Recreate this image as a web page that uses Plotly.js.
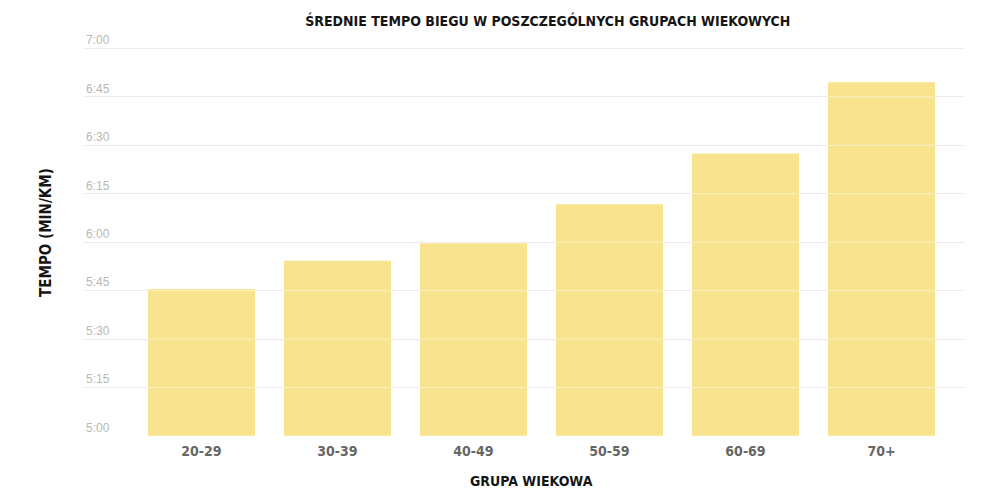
<!DOCTYPE html>
<html>
<head>
<meta charset="utf-8">
<script src="https://cdn.plot.ly/plotly-3.0.1.min.js"></script>
<style>
  html, body { margin: 0; padding: 0; background: #fff; }
  #chart { width: 1000px; height: 500px; }
</style>
</head>
<body>
<div id="chart"></div>
<script>
// Data (pace in minutes per km, decimal minutes)
const ageGroups = ["20-29", "30-39", "40-49", "50-59", "60-69", "70+"];
const paceMinutes = [5.758, 5.904, 5.995, 6.196, 6.458, 6.825];
const tickValues = [5, 5.25, 5.5, 5.75, 6, 6.25, 6.5, 6.75, 7];
const tickLabels = ["5:00", "5:15", "5:30", "5:45", "6:00", "6:15", "6:30", "6:45", "7:00"];

const chartTitle = "ŚREDNIE TEMPO BIEGU W POSZCZEGÓLNYCH GRUPACH WIEKOWYCH";
const xTitle = "GRUPA WIEKOWA";
const yTitle = "TEMPO (MIN/KM)";

const condensed = "'Liberation Sans Narrow', 'DejaVu Sans Condensed', 'Arial Narrow', sans-serif";

const trace = {
  type: "bar",
  x: ageGroups,
  y: paceMinutes,
  marker: { color: "#f8e48f", line: { width: 0 } },
  hoverinfo: "x+y"
};

// light overlay lines so the grid shows faintly through the bars
const gridOverlay = tickValues.map(v => ({
  type: "line", xref: "paper", x0: 0, x1: 1, yref: "y", y0: v, y1: v,
  layer: "above", line: { color: "rgba(255,255,255,0.45)", width: 1 }
}));

const layout = {
  width: 1000,
  height: 500,
  paper_bgcolor: "#ffffff",
  plot_bgcolor: "#ffffff",
  margin: { l: 83, r: 35, t: 29, b: 64 },
  bargap: 0.213,
  showlegend: false,
  title: {
    text: "<b>" + chartTitle + "</b>",
    font: { family: condensed, size: 14, color: "#151515" },
    xref: "paper", x: 0.527, xanchor: "center",
    yref: "container", y: 0.958, yanchor: "middle"
  },
  xaxis: {
    type: "category",
    range: [-0.871, 5.614],
    showgrid: false,
    zeroline: false,
    showline: false,
    ticks: "",
    tickfont: { family: condensed, size: 14, color: "#666666", weight: "bold" },
    ticklabelstandoff: 5
  },
  yaxis: {
    range: [5, 7.1],
    tickvals: tickValues,
    ticktext: tickLabels,
    ticklabelposition: "inside top",
    tickfont: { family: "'Liberation Sans', Arial, sans-serif", size: 12, color: "#b8b8b8" },
    showgrid: true,
    gridcolor: "#e2e2e2",
    gridwidth: 1,
    zeroline: false,
    showline: false,
    ticks: "",
    title: {
      text: "<b>" + yTitle + "</b>",
      font: { family: condensed, size: 15, color: "#151515" },
      standoff: 30
    }
  },
  shapes: gridOverlay,
  annotations: [{
    text: "<b>" + xTitle + "</b>",
    xref: "paper", x: 0.508, xanchor: "center",
    yref: "paper", y: -0.11, yanchor: "middle",
    showarrow: false,
    font: { family: condensed, size: 14, color: "#151515" }
  }]
};

Plotly.newPlot("chart", [trace], layout, { displayModeBar: false, responsive: false });
</script>
</body>
</html>
